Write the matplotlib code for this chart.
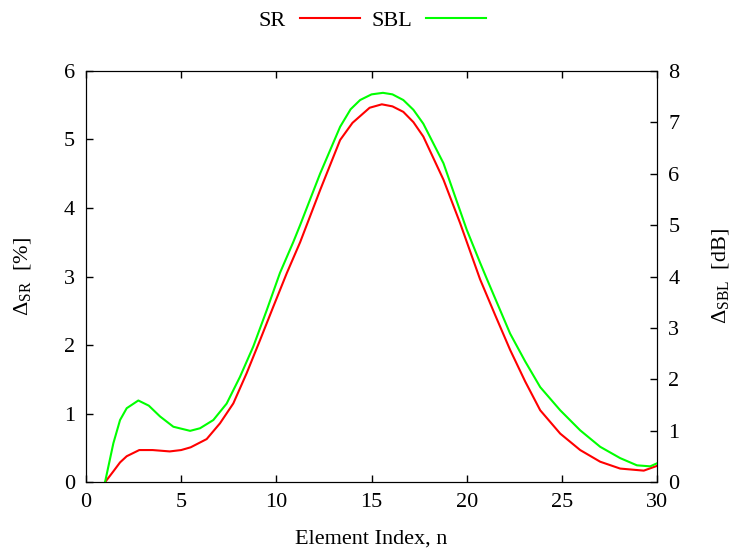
import matplotlib.pyplot as plt

plt.rcParams['font.family'] = 'Liberation Serif'
plt.rcParams['mathtext.fontset'] = 'custom'
plt.rcParams['mathtext.rm'] = 'Liberation Serif'
plt.rcParams['mathtext.it'] = 'Liberation Serif:italic'

# SR curve (left axis, %)
n_sr = [1, 1.44, 1.79, 2.14, 2.8, 3.5, 4.4, 5.0, 5.5, 6.34, 7.04, 7.74, 8.44,
        9.14, 9.84, 10.55, 11.25, 12.3, 13.35, 14.0, 14.9, 15.54, 16.1, 16.67,
        17.2, 17.72, 18.78, 19.65, 20.7, 21.49, 22.28, 23.07, 23.86, 24.91,
        25.96, 27.01, 28.06, 29.3, 30]
sr = [0, 0.16, 0.29, 0.38, 0.47, 0.47, 0.45, 0.47, 0.51, 0.63, 0.86, 1.15, 1.59,
      2.07, 2.56, 3.05, 3.50, 4.26, 4.99, 5.24, 5.46, 5.51, 5.48, 5.40,
      5.25, 5.04, 4.41, 3.78, 2.96, 2.44, 1.93, 1.47, 1.05, 0.71,
      0.47, 0.30, 0.20, 0.17, 0.24]

# SBL curve (right axis, dB)
n_sbl = [1, 1.44, 1.79, 2.14, 2.75, 3.3, 3.89, 4.59, 5.47, 5.99, 6.69, 7.39,
         8.09, 8.79, 9.5, 10.19, 10.89, 11.25, 12.3, 13.35, 13.9, 14.4, 15.0,
         15.6, 16.1, 16.67, 17.2, 17.72, 18.78, 20.0, 20.7, 21.05, 22.28,
         23.07, 23.86, 24.91, 25.96, 27.01, 28.06, 28.94, 29.64, 30]
sbl = [0, 0.76, 1.21, 1.44, 1.59, 1.49, 1.28, 1.08, 1.00, 1.05, 1.21, 1.53,
       2.05, 2.64, 3.35, 4.07, 4.67, 5.00, 6.00, 6.91, 7.25, 7.43, 7.54,
       7.57, 7.54, 7.43, 7.24, 6.97, 6.20, 4.91, 4.27, 3.96, 2.89,
       2.35, 1.85, 1.40, 1.01, 0.69, 0.47, 0.33, 0.31, 0.37]

fig = plt.figure(figsize=(7.36, 5.55), dpi=100)
ax = fig.add_axes([0.1168, 0.131, 0.776, 0.7416])
ax2 = ax.twinx()

l1, = ax.plot(n_sr, sr, color='#ff0000', lw=1.5, label='SR')
l2, = ax2.plot(n_sbl, sbl, color='#00ff00', lw=1.5, label='SBL')

ax.set_xlim(0, 30)
ax.set_ylim(0, 6)
ax2.set_ylim(0, 8)
ax.set_xticks(range(0, 31, 5))
ax.set_yticks(range(0, 7))
ax2.set_yticks(range(0, 9))

for a in (ax, ax2):
    a.tick_params(direction='in', length=5, width=1, labelsize=16, pad=8)
ax.tick_params(axis='x', top=True)

ax.set_xlabel('Element Index, n', fontsize=16, labelpad=12)
ax.set_ylabel(r'$\Delta_{\rm SR}$  [%]', fontsize=16, labelpad=22)
ax2.set_ylabel(r'$\Delta_{\rm SBL}$  [dB]', fontsize=16, labelpad=22)

fig.legend(handles=[l1, l2], loc='center', bbox_to_anchor=(0.506, 0.963),
           ncol=2, frameon=False, markerfirst=False, fontsize=16,
           handlelength=2.7, columnspacing=0.55, handletextpad=0.6)

fig.savefig('out.png', dpi=100)
